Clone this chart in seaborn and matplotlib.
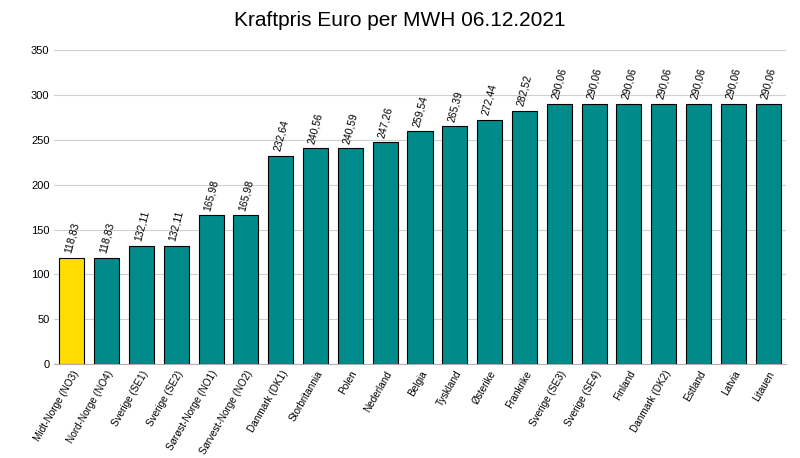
import matplotlib.pyplot as plt
import seaborn as sns
import pandas as pd

# data
omrader = ['Midt-Norge (NO3)', 'Nord-Norge (NO4)', 'Sverige (SE1)', 'Sverige (SE2)',
           'Sørøst-Norge (NO1)', 'Sørvest-Norge (NO2)', 'Danmark (DK1)', 'Storbritannia',
           'Polen', 'Nederland', 'Belgia', 'Tyskland', 'Østerike', 'Frankrike',
           'Sverige (SE3)', 'Sverige (SE4)', 'Finland', 'Danmark (DK2)', 'Estland',
           'Latvia', 'Litauen']
priser = [118.83, 118.83, 132.11, 132.11, 165.98, 165.98, 232.64, 240.56, 240.59,
          247.26, 259.54, 265.39, 272.44, 282.52, 290.06, 290.06, 290.06, 290.06,
          290.06, 290.06, 290.06]

df = pd.DataFrame({'omrade': omrader, 'pris': priser})
farger = ['#FFDD00'] + ['#008B8B'] * (len(omrader) - 1)

plt.rcParams['font.family'] = 'Liberation Sans'
fig, ax = plt.subplots(figsize=(8, 4.58), dpi=100)
fig.subplots_adjust(left=0.068, right=0.982, top=0.89, bottom=0.205)

sns.barplot(data=df, x='omrade', y='pris', hue='omrade', palette=farger, saturation=1,
            legend=False, width=0.72, edgecolor='black', linewidth=0.8, ax=ax, zorder=3)

for i, v in enumerate(priser):
    ax.text(i, v + 4, f'{v:.2f}'.replace('.', ','), rotation=75, ha='center',
            va='bottom', fontsize=7.5)

ax.set_ylim(0, 350)
ax.set_yticks(range(0, 351, 50))
ax.yaxis.grid(True, color='#d0d0d0', linewidth=0.8, zorder=0)
ax.set_axisbelow(True)
ax.set_xlim(-0.5, len(omrader) - 0.5)
ax.set_xlabel('')
ax.set_ylabel('')
ax.tick_params(axis='x', labelsize=7.2, length=0, rotation=60)
ax.tick_params(axis='y', labelsize=8, length=0)
for lbl in ax.get_xticklabels():
    lbl.set_ha('right')
    lbl.set_rotation_mode('anchor')
for s in ['top', 'right', 'left']:
    ax.spines[s].set_visible(False)
ax.spines['bottom'].set_color('#b0b0b0')

fig.suptitle('Kraftpris Euro per MWH 06.12.2021', fontsize=15, y=0.975)
fig.savefig('out.png', dpi=100)
